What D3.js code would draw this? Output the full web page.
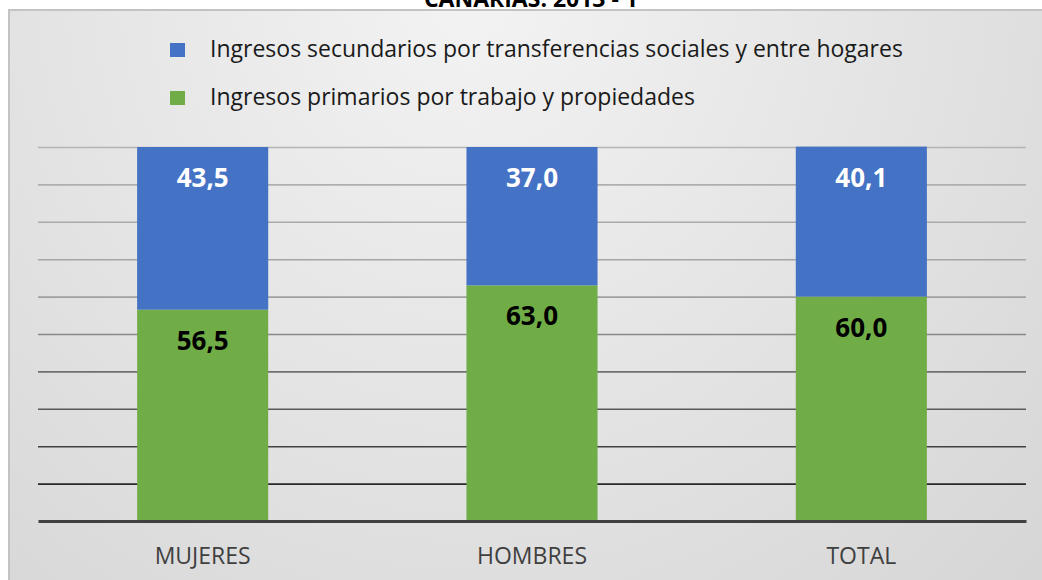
<!DOCTYPE html>
<html>
<head>
<meta charset="utf-8">
<script src="https://cdn.jsdelivr.net/npm/d3@7"></script>
<style>
  html, body { margin: 0; padding: 0; background: #ffffff; }
  svg { display: block; }
</style>
</head>
<body>
<div id="chart"></div>
<script>
// Income composition by sex (percent of total income)
const categories = ["MUJERES", "HOMBRES", "TOTAL"];
const primarios = [56.5, 63.0, 60.0];     // Ingresos primarios por trabajo y propiedades
const secundarios = [43.5, 37.0, 40.1];   // Ingresos secundarios por transferencias sociales y entre hogares
const tickValues = [0, 10, 20, 30, 40, 50, 60, 70, 80, 90, 100];
const seriesNames = [
  "Ingresos secundarios por transferencias sociales y entre hogares",
  "Ingresos primarios por trabajo y propiedades"
];
const seriesColors = ["#4472c4", "#70ad47"];
const titleText = "CANARIAS. 2013 - 1";

const W = 1042, H = 580;
const margin = { top: 147, right: 16, bottom: 59, left: 38 };

const svg = d3.select("#chart").append("svg")
  .attr("width", W).attr("height", H);

// Chart-area background with a soft grey gradient
const defs = svg.append("defs");
const grad = defs.append("radialGradient")
  .attr("id", "bg").attr("gradientUnits", "userSpaceOnUse")
  .attr("cx", 470).attr("cy", 0).attr("r", 1000);
grad.append("stop").attr("offset", "0%").attr("stop-color", "#f3f3f3");
grad.append("stop").attr("offset", "100%").attr("stop-color", "#cfcfcf");

svg.append("rect")
  .attr("x", 9).attr("y", 10).attr("width", W).attr("height", H)
  .attr("fill", "url(#bg)")
  .attr("stroke", "#c3c3c3").attr("stroke-width", 2);

// Title (sits above the frame, mostly cut off by the top edge)
svg.append("text")
  .attr("x", 531).attr("y", 7)
  .attr("text-anchor", "middle")
  .style("font-family", "'Open Sans', sans-serif")
  .style("font-weight", "bold").style("font-size", "23px")
  .attr("fill", "#000")
  .text(titleText);

const x = d3.scaleBand()
  .domain(categories)
  .range([margin.left, W - margin.right])
  .paddingInner(0.602).paddingOuter(0.301);

const y = d3.scaleLinear()
  .domain([0, 100])
  .range([H - margin.bottom, margin.top]);

// Horizontal gridlines, shading from light grey at top to near-black at bottom
const gridColor = d3.scaleLinear()
  .domain([100, 60, 0])
  .range(["#b4b4b4", "#a0a0a0", "#111111"]);

const grid = svg.append("g")
  .attr("transform", `translate(${margin.left},0)`)
  .call(d3.axisLeft(y).tickValues(tickValues.filter(v => v > 0))
    .tickSize(-(W - margin.right - margin.left)).tickFormat(""));
grid.select(".domain").remove();
grid.selectAll(".tick line")
  .attr("stroke", d => gridColor(d))
  .attr("stroke-width", 1.6);

// Stacked bars
const rows = categories.map((c, i) => ({ cat: c, primarios: primarios[i], secundarios: secundarios[i] }));
const stack = d3.stack().keys(["primarios", "secundarios"]);
const layers = stack(rows);
const layerColor = { primarios: seriesColors[1], secundarios: seriesColors[0] };

svg.append("g").selectAll("g")
  .data(layers).join("g")
  .attr("fill", d => layerColor[d.key])
  .selectAll("rect")
  .data(d => d.map(s => ({ key: d.key, s })))
  .join("rect")
  .attr("x", d => x(d.s.data.cat))
  .attr("width", x.bandwidth())
  .attr("y", d => y(d.s[1]))
  .attr("height", d => y(d.s[0]) - y(d.s[1]));

// Value labels near the top of each segment
const fmt = v => d3.format(".1f")(v).replace(".", ",");
svg.append("g").selectAll("g")
  .data(layers).join("g")
  .selectAll("text")
  .data(d => d.map(s => ({ key: d.key, s })))
  .join("text")
  .attr("x", d => x(d.s.data.cat) + x.bandwidth() / 2)
  .attr("y", d => y(d.s[1]) + 40)
  .attr("text-anchor", "middle")
  .style("font-family", "'Open Sans', sans-serif")
  .style("font-weight", "bold").style("font-size", "26px")
  .attr("fill", d => d.key === "secundarios" ? "#ffffff" : "#000000")
  .text(d => fmt(d.s.data[d.key]));

// Category axis
const xAxis = svg.append("g")
  .attr("transform", `translate(0,${H - margin.bottom})`)
  .call(d3.axisBottom(x).tickSize(0).tickPadding(27));
xAxis.select(".domain")
  .attr("stroke", "#404040").attr("stroke-width", 3);
xAxis.selectAll(".tick text")
  .style("font-family", "'Open Sans', sans-serif")
  .style("font-size", "23px")
  .attr("fill", "#404040");

// Legend
const legend = svg.append("g");
seriesNames.forEach((name, i) => {
  const ly = 50 + i * 48;
  legend.append("rect")
    .attr("x", 170).attr("y", ly - 7)
    .attr("width", 15).attr("height", 14)
    .attr("fill", seriesColors[i]);
  legend.append("text")
    .attr("x", 210).attr("y", ly + 7)
    .style("font-family", "'Open Sans', sans-serif")
    .style("font-size", "23px")
    .attr("fill", "#1a1a1a")
    .text(name);
});
</script>
</body>
</html>
